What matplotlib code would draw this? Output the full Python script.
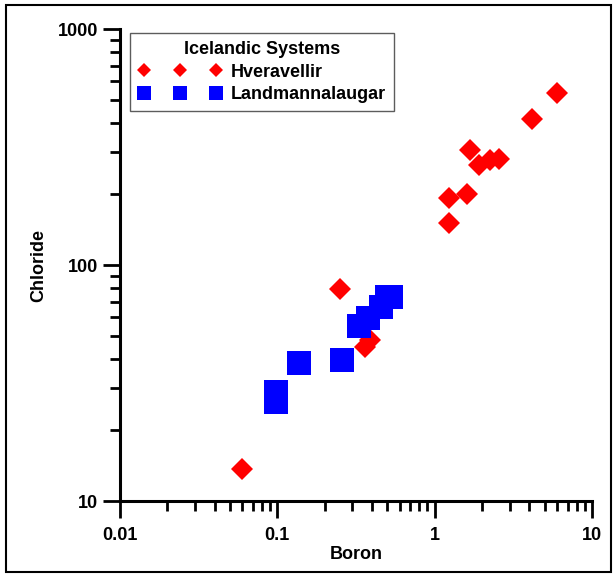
import matplotlib
matplotlib.use("Agg")
import matplotlib.pyplot as plt
from matplotlib.patches import Rectangle
from matplotlib.ticker import LogLocator, FixedLocator, FixedFormatter, NullFormatter

plt.rcParams['font.family'] = ['Liberation Sans', 'DejaVu Sans']

# Hveravellir (red diamonds)
hv_boron = [0.06, 0.25, 0.36, 0.39, 1.24, 1.24, 1.6, 1.68, 1.9, 2.25, 2.55, 4.15, 6.0]
hv_chloride = [13.7, 79, 45, 48, 150, 192, 200, 307, 265, 278, 280, 415, 535]

# Landmannalaugar (blue squares)
lm_boron = [0.098, 0.098, 0.137, 0.256, 0.33, 0.377, 0.456, 0.498, 0.528]
lm_chloride = [29.0, 26.3, 38.6, 39.6, 55.2, 59.6, 66.4, 73.2, 73.2]

x_ticks = [0.01, 0.1, 1, 10]
x_labels = ['0.01', '0.1', '1', '10']
y_ticks = [10, 100, 1000]
y_labels = ['10', '100', '1000']

fig = plt.figure(figsize=(6.14, 5.75), dpi=100)
ax = fig.add_axes([120/614, 1 - 501/575, (592-120)/614, (501-29)/575])

ax.plot(hv_boron, hv_chloride, linestyle='none', marker='D', markersize=11.2,
        color='#ff0000', markeredgewidth=0, label='Hveravellir', zorder=2)
ax.plot(lm_boron, lm_chloride, linestyle='none', marker='s', markersize=16.8,
        color='#0000ff', markeredgewidth=0, label='Landmannalaugar', zorder=3)

ax.set_xscale('log')
ax.set_yscale('log')
ax.set_xlim(0.01, 10)
ax.set_ylim(10, 1000)

ax.xaxis.set_major_locator(FixedLocator(x_ticks))
ax.xaxis.set_major_formatter(FixedFormatter(x_labels))
ax.yaxis.set_major_locator(FixedLocator(y_ticks))
ax.yaxis.set_major_formatter(FixedFormatter(y_labels))
ax.xaxis.set_minor_locator(LogLocator(base=10, subs=range(2, 10)))
ax.yaxis.set_minor_locator(LogLocator(base=10, subs=range(2, 10)))
ax.xaxis.set_minor_formatter(NullFormatter())
ax.yaxis.set_minor_formatter(NullFormatter())

for s in ['top', 'right']:
    ax.spines[s].set_visible(False)
for s in ['left', 'bottom']:
    ax.spines[s].set_linewidth(2.2)

ax.tick_params(axis='both', which='major', direction='out', length=12, width=2,
               labelsize=13)
ax.tick_params(axis='both', which='minor', direction='out', length=7, width=2)
ax.tick_params(axis='x', which='major', pad=7)
ax.tick_params(axis='y', which='major', pad=4)
for lab in ax.get_xticklabels() + ax.get_yticklabels():
    lab.set_fontweight('bold')

ax.set_xlabel('Boron', fontsize=13, fontweight='bold', labelpad=1)
ax.set_ylabel('Chloride', fontsize=13, fontweight='bold', labelpad=7)

leg = ax.legend(loc='upper left', bbox_to_anchor=(130/614, 1 - 33/575),
                bbox_transform=fig.transFigure, borderaxespad=0,
                numpoints=3, markerscale=0.6, handlelength=4.6,
                handletextpad=0.55, title='Icelandic Systems',
                prop={'size': 13, 'weight': 'bold'},
                title_fontproperties={'size': 13, 'weight': 'bold'},
                fancybox=False, frameon=True, borderpad=0.45, labelspacing=0.3)
leg.get_frame().set_edgecolor('#333333')
leg.get_frame().set_linewidth(1.0)

fig.patches.append(Rectangle((6/614, 1 - 572/575), (611-6)/614, (572-5)/575,
                             transform=fig.transFigure, fill=False,
                             edgecolor='black', linewidth=1.5))

fig.savefig('out.png', dpi=100)
